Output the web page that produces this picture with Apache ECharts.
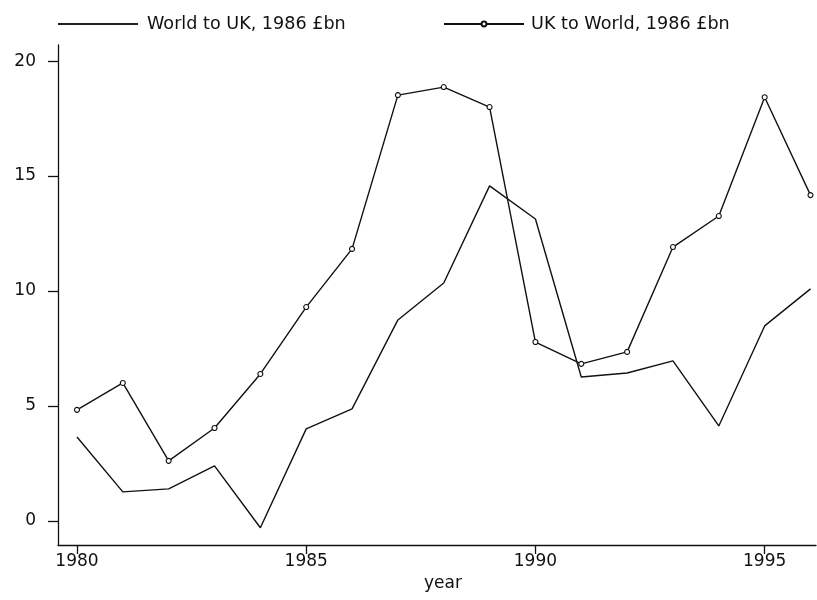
<!DOCTYPE html>
<html>
<head>
<meta charset="utf-8">
<script src="https://cdn.jsdelivr.net/npm/echarts@6/dist/echarts.min.js"></script>
<style>
  html, body { margin: 0; padding: 0; background: #fff; }
  #chart { width: 817px; height: 600px; }
</style>
</head>
<body>
<div id="chart"></div>
<script>
// Annual flows, 1980-1996, in 1986 £bn
const years = [1980, 1981, 1982, 1983, 1984, 1985, 1986, 1987, 1988,
               1989, 1990, 1991, 1992, 1993, 1994, 1995, 1996];
const worldToUK = [3.65, 1.26, 1.39, 2.39, -0.3, 4.0, 4.87, 8.74, 10.35,
                   14.57, 13.13, 6.26, 6.43, 6.96, 4.13, 8.48, 10.09];
const ukToWorld = [4.83, 6.0, 2.61, 4.04, 6.39, 9.3, 11.83, 18.52, 18.87,
                   18.0, 7.78, 6.83, 7.35, 11.91, 13.26, 18.43, 14.17];
const xTicks = [1980, 1985, 1990, 1995];
const yTicks = [0, 5, 10, 15, 20];
const seriesNames = ['World to UK, 1986 £bn', 'UK to World, 1986 £bn'];

const ink = '#111';
const font = 'DejaVu Sans, Verdana, sans-serif';
const fs = 17;
const legendFs = 17.6;

const pairs = (vals) => years.map((y, i) => [y, vals[i]]);

const chart = echarts.init(document.getElementById('chart'), null, { renderer: 'canvas' });
chart.setOption({
  animation: false,
  backgroundColor: '#fff',
  textStyle: { fontFamily: font, color: ink },
  legend: [
    {
      data: [seriesNames[0]],
      left: 53, top: 10,
      icon: 'rect',
      itemWidth: 80, itemHeight: 2, itemGap: 0,
      itemStyle: { color: '#222' },
      textStyle: { fontSize: legendFs, color: ink, fontFamily: font, padding: [0, 0, 0, 4] },
      selectedMode: false
    },
    {
      data: [seriesNames[1]],
      left: 438, top: 10,
      itemWidth: 80, itemHeight: 6, itemGap: 0,
      textStyle: { fontSize: legendFs, color: ink, fontFamily: font, padding: [0, 0, 0, 2] },
      selectedMode: false
    }
  ],
  grid: { left: 58, right: 1, top: 45, bottom: 55, containLabel: false },
  xAxis: {
    type: 'value',
    min: 1979.586,
    max: 1996.12,
    name: 'year',
    nameLocation: 'middle',
    nameGap: 29,
    nameTextStyle: { fontSize: fs, color: ink, fontFamily: font, padding: [0, 0, 0, 12] },
    splitLine: { show: false },
    axisLine: { show: true, onZero: false, lineStyle: { color: ink, width: 1.3 } },
    axisTick: { show: true, customValues: xTicks, length: 9, inside: false, lineStyle: { color: ink, width: 1.3 } },
    axisLabel: { customValues: xTicks, formatter: (v) => String(v), fontSize: fs, color: ink, margin: 8, fontFamily: font }
  },
  yAxis: {
    type: 'value',
    min: -1.05,
    max: 20.7,
    splitLine: { show: false },
    axisLine: { show: true, onZero: false, lineStyle: { color: ink, width: 1.3 } },
    axisTick: { show: true, customValues: yTicks, length: 10, lineStyle: { color: ink, width: 1.3 } },
    axisLabel: { customValues: yTicks, fontSize: fs, color: ink, margin: 22, fontFamily: font }
  },
  series: [
    {
      name: seriesNames[0],
      type: 'line',
      data: pairs(worldToUK),
      symbol: 'none',
      lineStyle: { color: ink, width: 1.4 },
      itemStyle: { color: ink }
    },
    {
      name: seriesNames[1],
      type: 'line',
      data: pairs(ukToWorld),
      symbol: 'circle',
      symbolSize: 5,
      showSymbol: true,
      lineStyle: { color: ink, width: 1.4 },
      itemStyle: { color: '#fff', borderColor: ink, borderWidth: 1.1 }
    }
  ]
});
</script>
</body>
</html>
